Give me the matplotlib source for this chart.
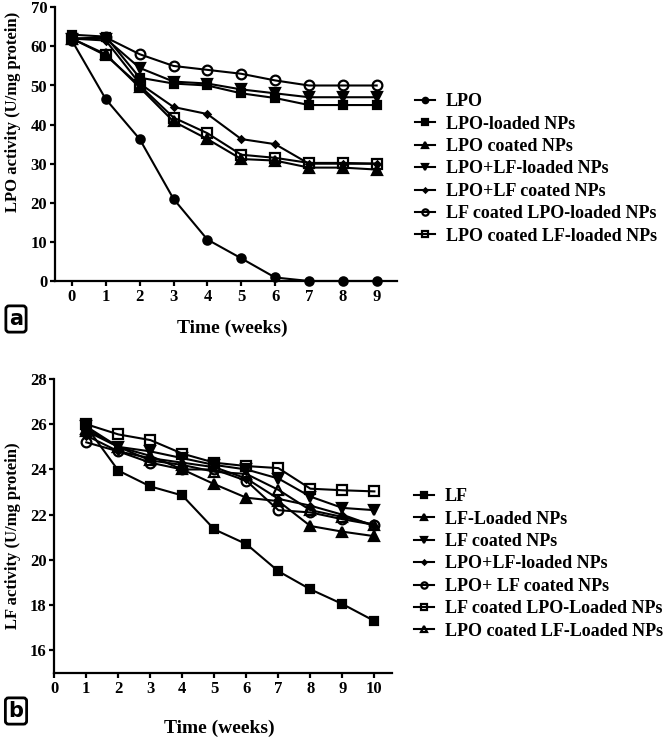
import matplotlib
matplotlib.use("Agg")
import matplotlib.pyplot as plt

# ---------------- data: panel a ----------------
weeks_a = [0, 1, 2, 3, 4, 5, 6, 7, 8, 9]
lpo = [61.5, 46.5, 36.3, 21.0, 10.6, 5.8, 0.9, 0.0, 0.0, 0.0]
lpo_loaded = [63.0, 62.5, 52.0, 50.5, 50.0, 48.0, 46.8, 45.0, 45.0, 45.0]
lpo_coated = [62.0, 58.0, 49.5, 40.8, 36.3, 31.2, 30.8, 29.0, 29.0, 28.5]
lpo_lf_loaded = [62.0, 62.0, 54.5, 51.0, 50.5, 49.0, 48.0, 47.0, 47.0, 47.0]
lpo_lf_coated = [62.0, 61.5, 50.5, 44.5, 42.7, 36.3, 35.0, 30.0, 30.0, 30.0]
lf_coated_lpo_loaded = [62.0, 62.3, 58.0, 55.0, 54.0, 53.0, 51.3, 50.0, 50.0, 50.0]
lpo_coated_lf_loaded = [62.0, 57.7, 50.0, 41.8, 37.8, 32.3, 31.5, 30.2, 30.2, 30.0]
labels_a = ["LPO", "LPO-loaded NPs", "LPO coated NPs", "LPO+LF-loaded NPs",
            "LPO+LF coated NPs", "LF coated LPO-loaded NPs", "LPO coated LF-loaded NPs"]
xticks_a = [0, 1, 2, 3, 4, 5, 6, 7, 8, 9]
yticks_a = [0, 10, 20, 30, 40, 50, 60, 70]

# ---------------- data: panel b ----------------
weeks_b = [1, 2, 3, 4, 5, 6, 7, 8, 9, 10]
lf = [25.9, 23.95, 23.25, 22.85, 21.35, 20.7, 19.5, 18.7, 18.05, 17.3]
lf_loaded = [25.8, 25.0, 24.6, 24.0, 23.35, 22.75, 22.6, 21.5, 21.25, 21.05]
lf_coated = [25.9, 25.0, 24.8, 24.5, 24.2, 24.0, 23.6, 22.8, 22.3, 22.2]
lpo_lf_loaded_b = [25.5, 24.8, 24.5, 24.3, 24.1, 23.6, 22.7, 22.4, 22.0, 21.5]
lpo_lf_coated_b = [25.2, 24.8, 24.3, 24.0, 24.0, 23.5, 22.2, 22.1, 21.8, 21.55]
lf_coated_lpo_loaded_b = [26.0, 25.55, 25.3, 24.7, 24.3, 24.15, 24.06, 23.15, 23.08, 23.03]
lpo_coated_lf_loaded_b = [25.7, 25.0, 24.4, 24.2, 23.9, 23.8, 23.1, 22.2, 21.9, 21.55]
labels_b = ["LF", "LF-Loaded NPs", "LF coated NPs", "LPO+LF-loaded NPs",
            "LPO+ LF coated NPs", "LF coated LPO-Loaded NPs", "LPO coated LF-Loaded NPs"]
xticks_b = [0, 1, 2, 3, 4, 5, 6, 7, 8, 9, 10]
yticks_b = [16, 18, 20, 22, 24, 26, 28]

plt.rcParams['font.family'] = ['Liberation Serif', 'DejaVu Serif']
plt.rcParams['font.weight'] = 'bold'

W, H = 666, 738
fig = plt.figure(figsize=(W / 100, H / 100), dpi=100)

def style_axes(ax):
    for s in ['top', 'right']:
        ax.spines[s].set_visible(False)
    for s in ['left', 'bottom']:
        ax.spines[s].set_linewidth(1.6)
    ax.tick_params(direction='out', length=3.5, width=1.6, labelsize=12, pad=2)
    for lab in ax.get_xticklabels() + ax.get_yticklabels():
        lab.set_fontweight('bold')

def plot_series(ax, x, series, labels, styles):
    for y, lab, (mk, ms, filled) in zip(series, labels, styles):
        ax.plot(x, y, color='black', lw=1.5, marker=mk, ms=ms,
                mfc='black' if filled else 'none', mec='black', mew=1.6,
                label=lab, clip_on=False, zorder=3)

leg_kw = dict(frameon=False, prop={'size': 13, 'weight': 'bold'}, handlelength=1.1,
              handletextpad=0.6, labelspacing=0.3, borderaxespad=0, markerscale=0.65)

# ---------------- panel a ----------------
axa = fig.add_axes([55 / W, 1 - 281 / H, (397 - 55) / W, (281 - 7.3) / H])
styles_a = [('o', 6, True), ('s', 6, True), ('^', 6.5, True), ('v', 6.5, True),
            ('D', 3.2, True), ('o', 7, False), ('s', 7, False)]
plot_series(axa, weeks_a,
            [lpo, lpo_loaded, lpo_coated, lpo_lf_loaded, lpo_lf_coated,
             lf_coated_lpo_loaded, lpo_coated_lf_loaded],
            labels_a, styles_a)
axa.set_xlim(-0.5, 9.6)
axa.set_ylim(0, 70)
axa.set_xticks(xticks_a)
axa.set_yticks(yticks_a)
style_axes(axa)
axa.legend(loc='upper left', bbox_to_anchor=(408 / W, 1 - 86 / H),
           bbox_transform=fig.transFigure, **leg_kw)

fig.text(13 / W, 1 - 112 / H, "LPO activity (U/mg protein)", rotation=90,
         ha='center', va='center', fontsize=12, fontweight='bold')
fig.text(232 / W, 1 - 328 / H, "Time (weeks)", ha='center', va='center',
         fontsize=14, fontweight='bold')

# ---------------- panel b ----------------
axb = fig.add_axes([54.3 / W, 1 - 673 / H, (392 - 54.3) / W, (673 - 379) / H])
styles_b = [('s', 6, True), ('^', 6.5, True), ('v', 6.5, True), ('D', 3.2, True),
            ('o', 7, False), ('s', 7, False), ('^', 7, False)]
plot_series(axb, weeks_b,
            [lf, lf_loaded, lf_coated, lpo_lf_loaded_b, lpo_lf_coated_b,
             lf_coated_lpo_loaded_b, lpo_coated_lf_loaded_b],
            labels_b, styles_b)
axb.set_xlim(0, 10.55)
axb.set_ylim(15, 28)
axb.set_xticks(xticks_b)
axb.set_yticks(yticks_b)
style_axes(axb)
axb.legend(loc='upper left', bbox_to_anchor=(407 / W, 1 - 481 / H),
           bbox_transform=fig.transFigure, **leg_kw)

fig.text(13 / W, 1 - 536 / H, "LF activity (U/mg protein)", rotation=90,
         ha='center', va='center', fontsize=12, fontweight='bold')
fig.text(219 / W, 1 - 728 / H, "Time (weeks)", ha='center', va='center',
         fontsize=14, fontweight='bold')

# panel letters
for txt, cy in [("a", 319), ("b", 711)]:
    fig.text(16 / W, 1 - cy / H, txt, ha='center', va='center', fontsize=15,
             fontweight='bold', family='DejaVu Sans',
             bbox=dict(boxstyle='round,pad=0.15,rounding_size=0.15', fc='white',
                       ec='black', lw=2))

fig.savefig("out.png", dpi=100)
